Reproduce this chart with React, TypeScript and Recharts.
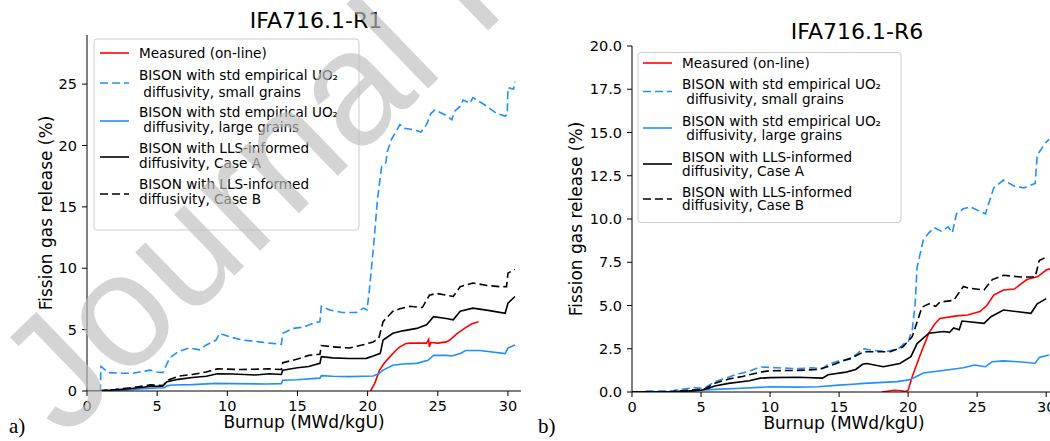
import { LineChart, Line, XAxis, YAxis } from "recharts";

const FONT = "'DejaVu Sans', sans-serif";

const burnupTicks = [0, 5, 10, 15, 20, 25, 30];
const r1Ticks = [0, 5, 10, 15, 20, 25];
const r6Ticks = [0, 2.5, 5, 7.5, 10, 12.5, 15, 17.5, 20];

const legendLabels = [
  ["Measured (on-line)"],
  ["BISON with std empirical UO\u2082", " diffusivity, small grains"],
  ["BISON with std empirical UO\u2082", " diffusivity, large grains"],
  ["BISON with LLS-informed", "diffusivity, Case A"],
  ["BISON with LLS-informed", "diffusivity, Case B"],
];

// IFA716.1-R1, [burnup, FGR %]
const r1Measured = [
  [20.2, 0], [20.5, 0.6], [20.85, 1.7], [21.2, 2.3], [21.6, 2.8], [22.0, 3.3], [22.3, 3.6],
  [22.7, 3.85], [23.0, 3.9], [23.8, 3.9], [24.2, 3.9], [24.35, 4.2], [24.4, 3.6], [24.5, 3.95],
  [25.0, 3.9], [25.6, 4.0], [25.85, 4.15], [26.4, 4.7], [26.9, 5.1], [27.4, 5.45], [27.9, 5.65],
];
const r1Small = [
  [0, 0], [0.95, 0], [1.0, 2.0], [1.5, 1.5], [2.5, 1.45], [3.3, 1.45], [4.0, 1.6], [4.5, 1.7],
  [5.0, 1.55], [5.4, 1.5], [5.9, 2.7], [6.5, 3.2], [7.3, 3.5], [8.0, 3.35], [8.5, 3.75],
  [9.2, 4.15], [9.45, 4.7], [10.2, 4.4], [11.1, 4.15], [12.3, 4.0], [13.0, 3.9], [13.85, 3.8],
  [13.95, 4.7], [14.7, 5.1], [15.4, 5.2], [16.1, 5.5], [16.6, 5.65], [16.7, 6.9], [17.3, 6.6],
  [18.2, 6.4], [19.2, 6.4], [19.7, 6.75], [19.95, 6.6], [20.1, 7.95], [20.4, 11.5], [20.7, 15.6],
  [21.0, 18.3], [21.3, 18.6], [21.4, 19.5], [21.7, 20.5], [21.9, 20.9], [22.3, 21.7], [22.6, 21.4],
  [23.2, 21.3], [23.8, 21.1], [24.2, 21.7], [24.5, 22.6], [24.8, 22.9], [25.5, 22.5], [26.0, 22.1],
  [26.2, 22.8], [26.6, 23.2], [26.8, 23.7], [27.3, 23.45], [27.5, 23.9], [28.5, 23.2], [29.2, 22.6],
  [29.8, 22.4], [29.95, 22.5], [30.0, 24.7], [30.4, 24.6], [30.5, 25.2],
];
const r1Large = [
  [0, 0], [2.0, 0.02], [3.0, 0.1], [4.0, 0.18], [5.0, 0.25], [5.5, 0.27], [5.7, 0.42], [6.1, 0.49],
  [7.5, 0.52], [9.2, 0.62], [10.5, 0.6], [12.8, 0.57], [13.85, 0.6], [13.95, 0.88], [15.0, 0.92],
  [16.3, 1.03], [16.6, 1.05], [16.7, 1.25], [17.5, 1.2], [18.7, 1.17], [20.4, 1.22], [20.8, 1.4],
  [21.1, 1.7], [21.8, 2.1], [22.5, 2.2], [23.5, 2.25], [24.3, 2.5], [24.7, 2.9], [25.6, 2.9],
  [26.0, 2.85], [26.6, 3.05], [27.0, 3.3], [28.0, 3.3], [29.8, 3.05], [30.0, 3.5], [30.5, 3.75],
];
const r1CaseA = [
  [0, 0], [1.0, 0.02], [2.0, 0.1], [3.0, 0.18], [4.0, 0.3], [4.5, 0.38], [5.4, 0.4], [5.7, 0.75],
  [6.5, 0.95], [7.5, 1.1], [8.5, 1.2], [9.3, 1.4], [10.4, 1.39], [12.0, 1.3], [13.0, 1.4],
  [13.85, 1.35], [13.95, 1.7], [15.0, 1.9], [15.8, 2.0], [16.6, 2.25], [16.7, 2.8], [17.5, 2.7],
  [18.7, 2.65], [19.9, 2.66], [20.4, 2.85], [20.9, 3.07], [21.1, 4.15], [21.8, 4.7], [22.5, 4.9],
  [23.5, 5.1], [24.2, 5.4], [24.7, 6.06], [25.6, 5.9], [26.1, 5.8], [26.6, 6.5], [27.5, 6.75],
  [28.7, 6.55], [29.8, 6.33], [30.0, 7.15], [30.5, 7.7],
];
const r1CaseB = [
  [0, 0], [1.0, 0.03], [2.0, 0.12], [3.0, 0.25], [4.0, 0.4], [4.5, 0.5], [5.4, 0.45], [5.8, 0.9],
  [6.5, 1.2], [7.5, 1.35], [8.5, 1.55], [9.3, 1.8], [11.0, 1.75], [13.0, 1.8], [13.85, 1.75],
  [13.95, 2.3], [15.0, 2.6], [15.8, 2.9], [16.6, 3.0], [16.7, 3.7], [17.5, 3.6], [18.7, 3.5],
  [19.8, 3.8], [20.4, 4.0], [20.8, 4.3], [21.1, 5.65], [21.8, 6.5], [22.3, 6.7], [23.0, 6.9],
  [23.9, 6.8], [24.4, 7.8], [24.9, 7.95], [25.6, 7.8], [26.1, 7.7], [26.6, 8.5], [27.5, 8.8],
  [28.5, 8.6], [29.4, 8.5], [29.9, 8.5], [30.0, 9.6], [30.5, 9.9],
];

// IFA716.1-R6
const r6Measured = [
  [18.1, 0], [19.0, 0.1], [19.5, 0.07], [19.8, 0.02], [20.0, 0.1], [20.3, 0.9], [20.9, 2.2],
  [21.5, 3.4], [21.9, 3.9], [22.3, 4.25], [23.5, 4.4], [24.3, 4.45], [25.2, 4.65], [25.7, 5.0],
  [26.2, 5.6], [26.9, 5.9], [27.7, 5.95], [28.1, 6.2], [28.6, 6.5], [29.4, 6.67], [30.0, 7.05],
  [30.4, 7.15],
];
const r6Small = [
  [1.0, 0.05], [2.0, 0.05], [3.0, 0.08], [3.5, 0.15], [4.5, 0.25], [5.2, 0.2], [6.0, 0.6],
  [6.8, 0.8], [7.5, 1.0], [8.5, 1.2], [9.3, 1.45], [10.5, 1.4], [12.0, 1.35], [13.0, 1.4],
  [13.8, 1.35], [14.2, 1.6], [15.0, 1.8], [15.8, 1.9], [16.3, 2.2], [16.7, 2.5], [17.5, 2.4],
  [18.5, 2.35], [19.3, 2.5], [19.7, 2.8], [20.0, 2.9], [20.3, 3.6], [20.5, 5.0], [20.65, 7.2],
  [21.1, 8.8], [21.5, 9.2], [21.9, 9.5], [22.4, 9.3], [22.9, 9.55], [23.2, 9.2], [23.5, 10.3],
  [24.0, 10.6], [24.5, 10.7], [25.6, 10.3], [26.0, 11.3], [26.2, 11.8], [26.9, 12.25], [27.7, 11.9],
  [28.4, 11.8], [29.2, 12.05], [29.35, 13.7], [29.95, 14.4], [30.2, 14.6],
];
const r6Large = [
  [0, 0], [4.0, 0.02], [5.0, 0.1], [6.0, 0.15], [7.5, 0.2], [10.0, 0.3], [12.0, 0.28], [13.5, 0.3],
  [15.0, 0.4], [16.0, 0.45], [16.8, 0.5], [19.2, 0.6], [20.05, 0.7], [20.5, 0.85], [21.1, 1.1],
  [22.8, 1.27], [24.0, 1.4], [24.8, 1.56], [25.6, 1.46], [26.1, 1.75], [26.9, 1.8], [28.0, 1.75],
  [29.2, 1.66], [29.5, 2.0], [30.2, 2.14],
];
const r6CaseA = [
  [0, 0], [3.0, 0.02], [4.0, 0.05], [5.0, 0.1], [5.5, 0.2], [6.0, 0.35], [7.0, 0.5], [8.5, 0.65],
  [9.3, 0.8], [10.0, 0.83], [12.0, 0.85], [13.8, 0.8], [14.2, 1.0], [15.5, 1.15], [16.2, 1.3],
  [16.7, 1.6], [17.0, 1.65], [18.2, 1.46], [19.4, 1.65], [20.2, 2.04], [20.65, 2.8], [21.5, 3.4],
  [22.6, 3.5], [23.0, 3.45], [23.3, 3.7], [23.7, 3.6], [23.9, 4.1], [25.5, 3.97], [26.0, 4.35],
  [26.9, 4.74], [28.9, 4.55], [29.35, 5.1], [30.0, 5.4],
];
const r6CaseB = [
  [0, 0], [3.0, 0.02], [4.0, 0.1], [5.2, 0.15], [6.0, 0.5], [7.0, 0.75], [8.0, 0.9], [9.3, 1.15],
  [10.0, 1.23], [12.0, 1.25], [13.5, 1.3], [14.3, 1.5], [15.3, 1.8], [16.0, 2.0], [16.8, 2.33],
  [18.7, 2.33], [19.6, 2.6], [20.3, 3.2], [21.0, 4.9], [21.5, 5.1], [22.0, 4.95], [22.3, 5.2],
  [23.3, 5.3], [24.0, 6.1], [24.4, 6.0], [25.5, 5.9], [26.1, 6.5], [26.9, 6.75], [28.1, 6.65],
  [29.2, 6.65], [29.5, 7.6], [30.0, 7.8],
];

const styles = [
  { color: "#ff0000", dash: undefined },
  { color: "#1e90ff", dash: "8 4" },
  { color: "#1e90ff", dash: undefined },
  { color: "#000000", dash: undefined },
  { color: "#000000", dash: "8 4" },
];

const toPts = (arr: number[][]) => arr.map(([x, y]) => ({ x, y }));

type PanelProps = {
  left: number;
  width: number;
  margin: { top: number; right: number; bottom: number; left: number };
  xMax: number;
  yMax: number;
  yTicks: number[];
  yFmt?: (v: number) => string;
  series: number[][][];
};

function Panel({ left, width, margin, xMax, yMax, yTicks, yFmt, series }: PanelProps) {
  const tickStyle = { fill: "#000", fontSize: 14.5, fontFamily: FONT };
  return (
    <div style={{ position: "absolute", left, top: 0 }}>
      <LineChart width={width} height={441} margin={margin}>
        <XAxis
          dataKey="x"
          type="number"
          domain={[0, xMax]}
          ticks={burnupTicks}
          allowDataOverflow
          height={30}
          stroke="#000"
          tickSize={5}
          tickMargin={5}
          tick={tickStyle}
        />
        <XAxis xAxisId="top" orientation="top" type="number" domain={[0, xMax]} tick={false} tickLine={false} height={0} stroke="#000" />
        <YAxis
          type="number"
          domain={[0, yMax]}
          ticks={yTicks}
          allowDataOverflow
          width={60}
          stroke="#000"
          tickSize={5}
          tickMargin={5}
          tick={tickStyle}
          tickFormatter={yFmt}
        />
        <YAxis yAxisId="right" orientation="right" type="number" domain={[0, yMax]} tick={false} tickLine={false} width={0} stroke="#000" />
        {series.map((s, i) => (
          <Line
            key={i}
            data={toPts(s)}
            dataKey="y"
            type="linear"
            stroke={styles[i].color}
            strokeDasharray={styles[i].dash}
            strokeWidth={1.6}
            dot={false}
            isAnimationActive={false}
          />
        ))}
      </LineChart>
    </div>
  );
}

function LegendBox({ x, y, w, h, sampleX, textX, rows, samples }: { x: number; y: number; w: number; h: number; sampleX: number; textX: number; rows: number[][]; samples: number[] }) {
  return (
    <g>
      <rect x={x} y={y} width={w} height={h} rx={3} fill="#fff" fillOpacity={0.85} stroke="#cccccc" />
      {legendLabels.map((lines, i) => (
        <g key={i}>
          <line x1={sampleX} x2={sampleX + 29} y1={samples[i]} y2={samples[i]} stroke={styles[i].color} strokeWidth={1.6} strokeDasharray={styles[i].dash} />
          {lines.map((t, j) => (
            <text key={j} x={textX} y={rows[i][j]} fontSize={13.6} fill="#000" style={{ whiteSpace: "pre" }}>
              {t}
            </text>
          ))}
        </g>
      ))}
    </g>
  );
}

export default function App() {
  return (
    <div style={{ position: "absolute", left: 0, top: 0, width: 1050, height: 441, overflow: "hidden", background: "#fff", fontFamily: FONT }}>
      <Panel
        left={0}
        width={530}
        margin={{ top: 35, right: 9, left: 27, bottom: 20 }}
        xMax={30.93}
        yMax={29}
        yTicks={r1Ticks}
        series={[r1Measured, r1Small, r1Large, r1CaseA, r1CaseB]}
      />
      <Panel
        left={530}
        width={540}
        margin={{ top: 46, right: 10, left: 42, bottom: 19 }}
        xMax={31}
        yMax={20}
        yTicks={r6Ticks}
        yFmt={(v) => v.toFixed(1)}
        series={[r6Measured, r6Small, r6Large, r6CaseA, r6CaseB]}
      />
      <svg width={1050} height={441} style={{ position: "absolute", left: 0, top: 0 }}>
        <text x={316} y={28} textAnchor="middle" fontSize={22}>IFA716.1-R1</text>
        <text x={857} y={39} textAnchor="middle" fontSize={22}>IFA716.1-R6</text>
        <text x={304} y={428} textAnchor="middle" fontSize={17}>Burnup (MWd/kgU)</text>
        <text x={844} y={429} textAnchor="middle" fontSize={17}>Burnup (MWd/kgU)</text>
        <text transform="translate(52,213) rotate(-90)" textAnchor="middle" fontSize={17}>Fission gas release (%)</text>
        <text transform="translate(582,219) rotate(-90)" textAnchor="middle" fontSize={17}>Fission gas release (%)</text>
        <text x={9} y={433} fontSize={21} fontFamily="'Liberation Serif', serif">a)</text>
        <text x={538} y={433} fontSize={21} fontFamily="'Liberation Serif', serif">b)</text>
        <LegendBox
          x={94} y={39} w={265} h={191} sampleX={100} textX={139}
          rows={[[58], [80, 96.5], [116.5, 131.5], [153, 168], [189, 204]]}
          samples={[53, 83, 121, 157, 194]}
        />
        <LegendBox
          x={638} y={52.5} w={263} h={170} sampleX={643} textX={682}
          rows={[[68], [89, 104], [126, 140], [161.5, 175.5], [197, 210]]}
          samples={[63, 91.5, 128, 164, 199]}
        />
      </svg>
      <svg width={1050} height={441} style={{ position: "absolute", left: 0, top: 0, pointerEvents: "none" }}>
        <text
          transform="translate(64,440) rotate(-44)"
          fontSize={162}
          fontFamily="'Liberation Sans', sans-serif"
          fill="#bdbdbd"
          fillOpacity={0.66}
        >
          Journal Pre-proof
        </text>
      </svg>
    </div>
  );
}
